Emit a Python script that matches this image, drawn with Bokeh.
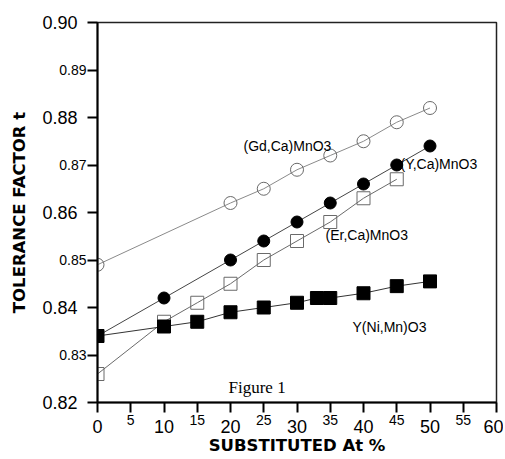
from bokeh.plotting import figure
from bokeh.models import FixedTicker, Label, LinearAxis
from bokeh.embed import file_html
from bokeh.resources import INLINE

# ---- data ----
gd_x = [0, 20, 25, 30, 35, 40, 45, 50]
gd_t = [0.849, 0.862, 0.865, 0.869, 0.872, 0.875, 0.879, 0.882]

yca_x = [0, 10, 20, 25, 30, 35, 40, 45, 50]
yca_t = [0.834, 0.842, 0.850, 0.854, 0.858, 0.862, 0.866, 0.870, 0.874]

er_x = [0, 10, 15, 20, 25, 30, 35, 40, 45]
er_t = [0.826, 0.837, 0.841, 0.845, 0.850, 0.854, 0.858, 0.863, 0.867]

ynm_x = [0, 10, 15, 20, 25, 30, 33, 35, 40, 45, 50]
ynm_t = [0.834, 0.836, 0.837, 0.839, 0.840, 0.841, 0.842, 0.842, 0.843, 0.8445, 0.8455]

x_major_ticks = [0, 10, 20, 30, 40, 50, 60]
x_major_labels = ["0", "10", "20", "30", "40", "50", "60"]
x_minor_ticks = [5, 15, 25, 35, 45, 55]
x_minor_labels = ["5", "15", "25", "35", "45", "55"]

y_major_ticks = [0.82, 0.84, 0.86, 0.88, 0.90]
y_major_labels = ["0.82", "0.84", "0.86", "0.88", "0.90"]
y_minor_ticks = [0.83, 0.85, 0.87, 0.89]
y_minor_labels = ["0.83", "0.85", "0.87", "0.89"]

series_names = ["(Gd,Ca)MnO3", "(Y,Ca)MnO3", "(Er,Ca)MnO3", "Y(Ni,Mn)O3"]

FONT = "Liberation Sans"
BOLD = "DejaVu Sans"

p = figure(width=503, height=458,
           x_range=(0, 60), y_range=(0.82, 0.90),
           output_backend="svg", toolbar_location=None,
           min_border_left=97, min_border_top=22, min_border_right=7, min_border_bottom=56)
p.background_fill_color = "white"
p.border_fill_color = "white"
p.outline_line_color = "#222222"
p.outline_line_width = 1.5
p.xgrid.visible = False
p.ygrid.visible = False

all_x = sorted(x_major_ticks + x_minor_ticks)
all_y = sorted(y_major_ticks + y_minor_ticks)

# inner axes: line, all ticks, small (minor) labels
ax_in_x = p.xaxis[0]
ax_in_y = p.yaxis[0]
ax_in_x.ticker = FixedTicker(ticks=all_x, minor_ticks=[])
ax_in_y.ticker = FixedTicker(ticks=all_y, minor_ticks=[])
ax_in_x.major_label_overrides = {**{t: "" for t in x_major_ticks},
                                 **{t: l for t, l in zip(x_minor_ticks, x_minor_labels)}}
ax_in_y.major_label_overrides = {**{t: "" for t in y_major_ticks},
                                 **{t: l for t, l in zip(y_minor_ticks, y_minor_labels)}}
for ax in (ax_in_x, ax_in_y):
    ax.axis_line_color = "black"
    ax.axis_line_width = 2
    ax.major_tick_line_color = "black"
    ax.major_tick_line_width = 2
    ax.major_tick_in = 0
    ax.major_tick_out = 10
    ax.minor_tick_line_color = None
    ax.major_label_text_font = FONT
    ax.major_label_text_font_size = "14px"
    ax.major_label_text_color = "black"
ax_in_x.major_label_standoff = 2
ax_in_y.major_label_standoff = 1

# outer axes: big (major) labels and axis titles
ax_out_x = LinearAxis(ticker=FixedTicker(ticks=x_major_ticks, minor_ticks=[]),
                      major_label_overrides={t: l for t, l in zip(x_major_ticks, x_major_labels)})
ax_out_y = LinearAxis(ticker=FixedTicker(ticks=y_major_ticks, minor_ticks=[]),
                      major_label_overrides={t: l for t, l in zip(y_major_ticks, y_major_labels)})
for ax in (ax_out_x, ax_out_y):
    ax.axis_line_color = None
    ax.major_tick_line_color = None
    ax.minor_tick_line_color = None
    ax.major_tick_in = 0
    ax.major_tick_out = 0
    ax.major_label_text_font = FONT
    ax.major_label_text_font_size = "18px"
    ax.major_label_text_color = "black"
    ax.axis_label_text_font = BOLD
    ax.axis_label_text_font_style = "bold"
    ax.axis_label_text_font_size = "16.5px"
    ax.axis_label_text_color = "black"
ax_out_x.major_label_standoff = -8
ax_out_y.major_label_standoff = -21
ax_out_x.axis_label = "SUBSTITUTED At %"
ax_out_y.axis_label = "TOLERANCE FACTOR t"
ax_out_x.axis_label_standoff = 0
ax_out_y.axis_label_standoff = 10
p.add_layout(ax_out_x, "below")
p.add_layout(ax_out_y, "left")

# series
p.line(gd_x, gd_t, line_color="#8a8a8a", line_width=1)
p.scatter(gd_x, gd_t, marker="circle", size=13, fill_alpha=0,
          line_color="#6a6a6a", line_width=1)

p.line(er_x, er_t, line_color="#6a6a6a", line_width=1)
p.scatter(er_x, er_t, marker="square", size=13, fill_alpha=0,
          line_color="#6a6a6a", line_width=1)

p.line(yca_x, yca_t, line_color="#444444", line_width=1)
p.scatter(yca_x, yca_t, marker="circle", size=12, fill_color="black",
          line_color="black")

p.line(ynm_x, ynm_t, line_color="#333333", line_width=1)
p.scatter(ynm_x, ynm_t, marker="square", size=13, fill_color="black",
          line_color="black")

# series labels
label_pos = [(21.95, 0.8739), (45.56, 0.8703), (34.29, 0.8552), (38.35, 0.8358)]
for name, (lx, ly) in zip(series_names, label_pos):
    p.add_layout(Label(x=lx, y=ly, text=name, text_align="left",
                       text_baseline="alphabetic", text_font=FONT,
                       text_font_size="14px", text_color="black"))

p.add_layout(Label(x=19.7, y=0.8232, text="Figure 1", text_align="left",
                   text_baseline="alphabetic", text_font="Liberation Serif",
                   text_font_size="17px", text_color="black"))

open("out.html", "w").write(file_html(p, INLINE))
